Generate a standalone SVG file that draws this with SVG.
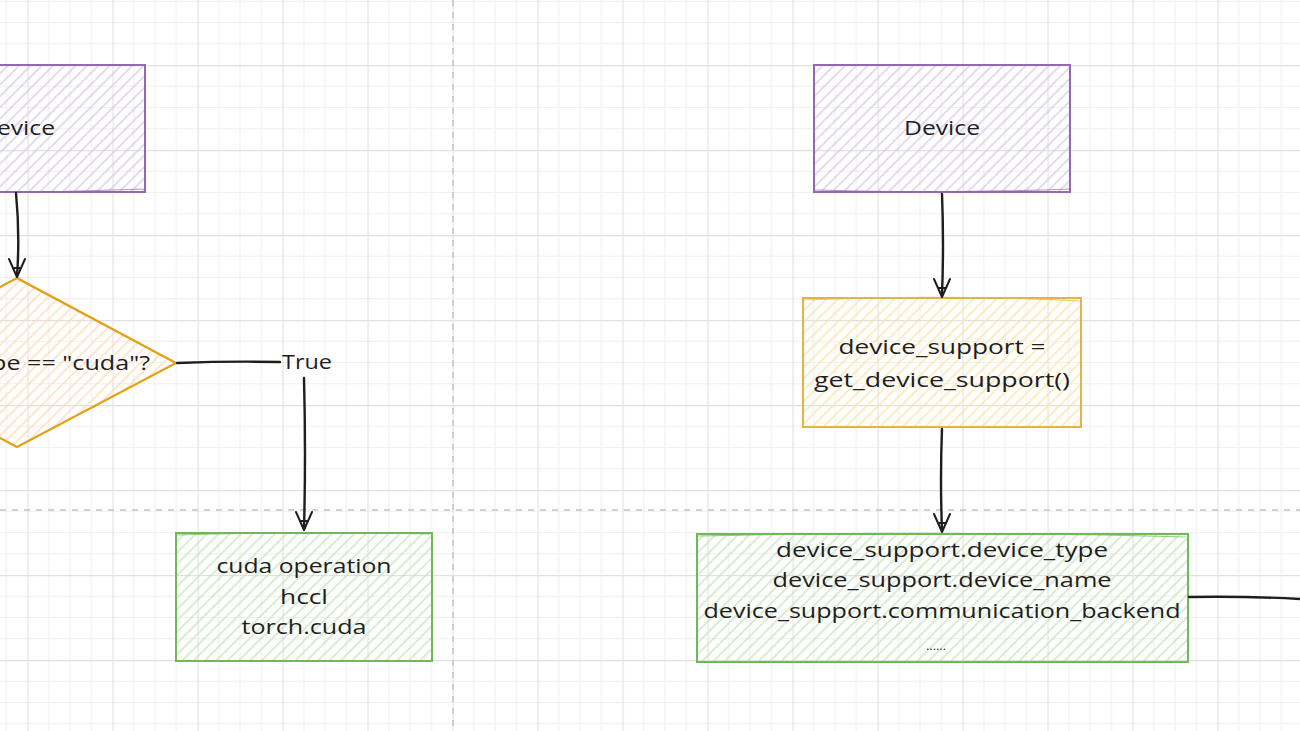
<svg xmlns="http://www.w3.org/2000/svg" width="1300" height="731" viewBox="0 0 1300 731">
  <defs>
    <pattern id="grid" patternUnits="userSpaceOnUse" x="27.5" y="65" width="85" height="85">
      <path d="M21.25 0V85M42.5 0V85M63.75 0V85M0 21.25H85M0 42.5H85M0 63.75H85" stroke="#f0f0f0" stroke-width="1.2" fill="none"/>
      <path d="M0.5 0V85M0 0.5H85" stroke="#e1e1e1" stroke-width="1.3" fill="none"/>
    </pattern>
    <pattern id="hPurple" patternUnits="userSpaceOnUse" width="8" height="8" patternTransform="rotate(45)">
      <line x1="4" y1="0" x2="4" y2="8" stroke="#d6c6ea" stroke-width="1.3"/>
    </pattern>
    <pattern id="hYellow" patternUnits="userSpaceOnUse" width="8" height="8" patternTransform="rotate(45)">
      <line x1="4" y1="0" x2="4" y2="8" stroke="#fbe3a0" stroke-width="1.3"/>
    </pattern>
    <pattern id="hPeach" patternUnits="userSpaceOnUse" width="8" height="8" patternTransform="rotate(45)">
      <line x1="4" y1="0" x2="4" y2="8" stroke="#ffd8b0" stroke-width="1.3"/>
    </pattern>
    <pattern id="hGreen" patternUnits="userSpaceOnUse" width="8" height="8" patternTransform="rotate(45)">
      <line x1="4" y1="0" x2="4" y2="8" stroke="#c6e3b8" stroke-width="1.3"/>
    </pattern>
  </defs>
  <style>
    .t { font-family: "Open Sans", "Liberation Sans", sans-serif; font-size: 20px; fill: #1e1e1e; text-anchor: middle; }
    .purple { stroke: #9467b4; stroke-width: 2; fill: url(#hPurple); }
    .yellow { stroke: #e2b445; stroke-width: 2; fill: url(#hYellow); }
    .peach { stroke: #e2a216; stroke-width: 2.2; fill: url(#hPeach); }
    .green { stroke: #70b858; stroke-width: 2; fill: url(#hGreen); }
    .edge { fill: none; stroke-width: 1.2; opacity: 0.7; }
    .conn { fill: none; stroke: #1e1e1e; stroke-width: 2.4; stroke-linecap: round; }
    .head { fill: none; stroke: #1e1e1e; stroke-width: 2; stroke-linejoin: round; stroke-linecap: round; }
    .dash { stroke: #c4c4c4; stroke-width: 1.5; stroke-dasharray: 6 6; fill: none; }
  </style>

  <rect x="0" y="0" width="1300" height="731" fill="#ffffff"/>
  <rect x="0" y="0" width="1300" height="731" fill="url(#grid)"/>

  <g id="dividers">
    <line class="dash" x1="453" y1="0" x2="453" y2="731"/>
    <line class="dash" x1="0" y1="510" x2="1300" y2="510"/>
  </g>

  <g id="left-device">
    <rect class="purple" x="-111" y="65" width="256" height="127"/>
    <path class="edge" stroke="#9467b4" d="M-110 190 Q20 194 146 189"/>
    <text class="t" x="17" y="135" textLength="76" lengthAdjust="spacingAndGlyphs">Device</text>
  </g>

  <g id="left-decision">
    <polygon class="peach" points="17,278 176,363 17,447 -142,363"/>
    <path class="edge" stroke="#e2a216" d="M19 280 L172 361"/>
    <text class="t" x="17" y="370" textLength="266" lengthAdjust="spacingAndGlyphs">device_type == "cuda"?</text>
  </g>

  <g id="left-cuda">
    <rect class="green" x="176" y="533" width="256" height="128"/>
    <path class="edge" stroke="#70b858" d="M177 535 Q300 531 430 534"/>
    <text class="t" x="304" y="573" textLength="175" lengthAdjust="spacingAndGlyphs">cuda operation</text>
    <text class="t" x="304" y="604" textLength="48" lengthAdjust="spacingAndGlyphs">hccl</text>
    <text class="t" x="304" y="634" textLength="125" lengthAdjust="spacingAndGlyphs">torch.cuda</text>
  </g>

  <g id="right-device">
    <rect class="purple" x="814" y="65" width="256" height="127"/>
    <path class="edge" stroke="#9467b4" d="M815 190 Q940 194 1070 189"/>
    <text class="t" x="942" y="135" textLength="76" lengthAdjust="spacingAndGlyphs">Device</text>
  </g>

  <g id="right-support">
    <rect class="yellow" x="803" y="298" width="278" height="129"/>
    <path class="edge" stroke="#e2b445" d="M804 300 Q940 294 1080 301"/>
    <text class="t" x="942" y="354" textLength="207" lengthAdjust="spacingAndGlyphs">device_support =</text>
    <text class="t" x="942" y="387" textLength="256" lengthAdjust="spacingAndGlyphs">get_device_support()</text>
  </g>

  <g id="right-attrs">
    <rect class="green" x="697" y="534" width="491" height="128"/>
    <path class="edge" stroke="#70b858" d="M698 536 Q940 530 1186 537"/>
    <text class="t" x="942" y="557" textLength="332" lengthAdjust="spacingAndGlyphs">device_support.device_type</text>
    <text class="t" x="942" y="587" textLength="339" lengthAdjust="spacingAndGlyphs">device_support.device_name</text>
    <text class="t" x="942" y="618" textLength="477" lengthAdjust="spacingAndGlyphs">device_support.communication_backend</text>
    <text class="t" x="936" y="650" style="font-size:11px" textLength="20" lengthAdjust="spacingAndGlyphs">......</text>
  </g>

  <g id="connectors">
    <path class="conn" d="M16 193 Q20 235 17 276"/>
    <path class="head" d="M9 259 L17 277 L25 259 M13 268 L21 268 L17 277 Z"/>

    <path class="conn" d="M177 363 Q230 361 280 362"/>
    <text class="t" x="307" y="369" textLength="50" lengthAdjust="spacingAndGlyphs">True</text>
    <path class="conn" d="M304 378 Q306 455 304 529"/>
    <path class="head" d="M296 512 L304 530 L312 512 M300 521 L308 521 L304 530 Z"/>

    <path class="conn" d="M942 194 Q944 245 942 295"/>
    <path class="head" d="M934 279 L942 297 L950 279 M938 288 L946 288 L942 297 Z"/>

    <path class="conn" d="M942 429 Q940 480 942 530"/>
    <path class="head" d="M934 514 L942 532 L950 514 M938 523 L946 523 L942 532 Z"/>

    <path class="conn" d="M1189 597 Q1245 596 1300 599"/>
  </g>
</svg>
